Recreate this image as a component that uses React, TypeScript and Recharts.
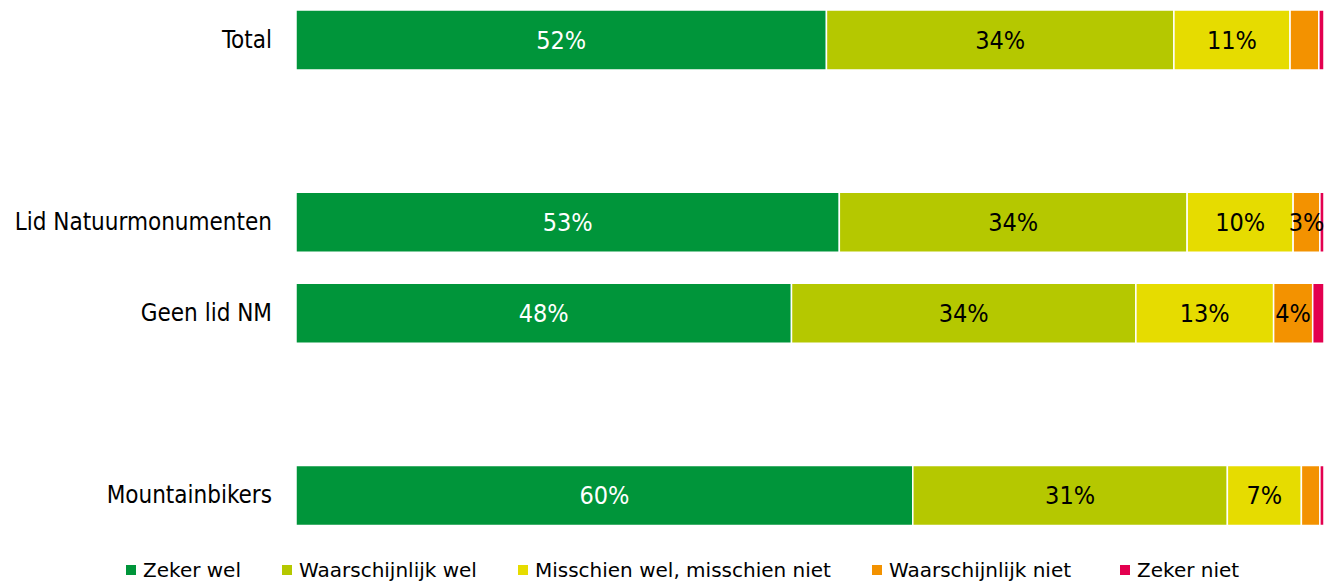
import React from "react";
import { BarChart, Bar, XAxis, YAxis, Legend, LabelList } from "recharts";

const categories = ["Total", "", "Lid Natuurmonumenten", "Geen lid NM", " ", "Mountainbikers"];
const zekerWel = [51.6, null, 52.8, 48.2, null, 60.0];
const waarschijnlijkWel = [33.8, null, 33.8, 33.5, null, 30.6];
const misschien = [11.3, null, 10.3, 13.4, null, 7.2];
const waarschijnlijkNiet = [2.8, null, 2.6, 3.8, null, 1.8];
const zekerNiet = [0.5, null, 0.4, 1.1, null, 0.4];

const labelsZekerWel = ["52%", "", "53%", "48%", "", "60%"];
const labelsWaarschijnlijkWel = ["34%", "", "34%", "34%", "", "31%"];
const labelsMisschien = ["11%", "", "10%", "13%", "", "7%"];
const labelsWaarschijnlijkNiet = ["", "", "3%", "4%", "", ""];
const labelsZekerNiet = ["", "", "", "", "", ""];

const seriesNames = ["Zeker wel", "Waarschijnlijk wel", "Misschien wel, misschien niet", "Waarschijnlijk niet", "Zeker niet"];
const colors = ["#00953A", "#B5C800", "#E6DC00", "#F39200", "#E3004F"];
const labelColors = ["#FFFFFF", "#000000", "#000000", "#000000", "#000000"];

const keys = ["s0", "s1", "s2", "s3", "s4"];
const seriesValues = [zekerWel, waarschijnlijkWel, misschien, waarschijnlijkNiet, zekerNiet];
const seriesLabels = [labelsZekerWel, labelsWaarschijnlijkWel, labelsMisschien, labelsWaarschijnlijkNiet, labelsZekerNiet];

const data = categories.map((c, i) => {
  const row: any = { name: c };
  keys.forEach((k, j) => {
    row[k] = seriesValues[j][i];
    row["l" + j] = seriesLabels[j][i];
  });
  return row;
});

const FONT = "'DejaVu Sans Condensed', 'DejaVu Sans', sans-serif";
const LEGEND_FONT = "'DejaVu Sans', sans-serif";

const LegendContent = () => (
  <div style={{ display: "flex", alignItems: "center", height: 28, paddingLeft: 126, fontFamily: LEGEND_FONT, fontSize: 20, color: "#000" }}>
    {seriesNames.map((n, i) => (
      <div key={n} style={{ display: "flex", alignItems: "center", marginRight: i === 3 ? 49 : 41 }}>
        <span style={{ display: "inline-block", width: 10, height: 10, background: colors[i], marginRight: 7 }} />
        <span style={{ whiteSpace: "nowrap" }}>{n}</span>
      </div>
    ))}
  </div>
);

export default function App() {
  return (
    <div style={{ position: "absolute", left: 0, top: 0, width: 1326, height: 583, background: "#fff" }}>
      <BarChart
        width={1326}
        height={583}
        data={data}
        layout="vertical"
        stackOffset="expand"
        margin={{ top: -6, right: 2, bottom: 14.5, left: 0 }}
      >
        <XAxis type="number" hide domain={[0, 1]} />
        <YAxis
          type="category"
          dataKey="name"
          width={296}
          axisLine={false}
          tickLine={false}
          tickSize={0}
          tickMargin={24}
          tick={{ fontFamily: FONT, fontStretch: "condensed", fontSize: 24, fill: "#000" }}
        />
        <Legend
          verticalAlign="bottom"
          content={<LegendContent />}
          wrapperStyle={{ top: 556, left: 0, width: 1326 }}
        />
        {keys.map((k, j) => (
          <Bar
            key={k}
            dataKey={k}
            stackId="a"
            fill={colors[j]}
            stroke="#FFFFFF"
            strokeWidth={1.5}
            barSize={60}
            isAnimationActive={false}
          >
            <LabelList
              dataKey={"l" + j}
              position="center"
              style={{ fontFamily: FONT, fontStretch: "condensed", fontSize: 25, fill: labelColors[j] }}
            />
          </Bar>
        ))}
      </BarChart>
    </div>
  );
}
